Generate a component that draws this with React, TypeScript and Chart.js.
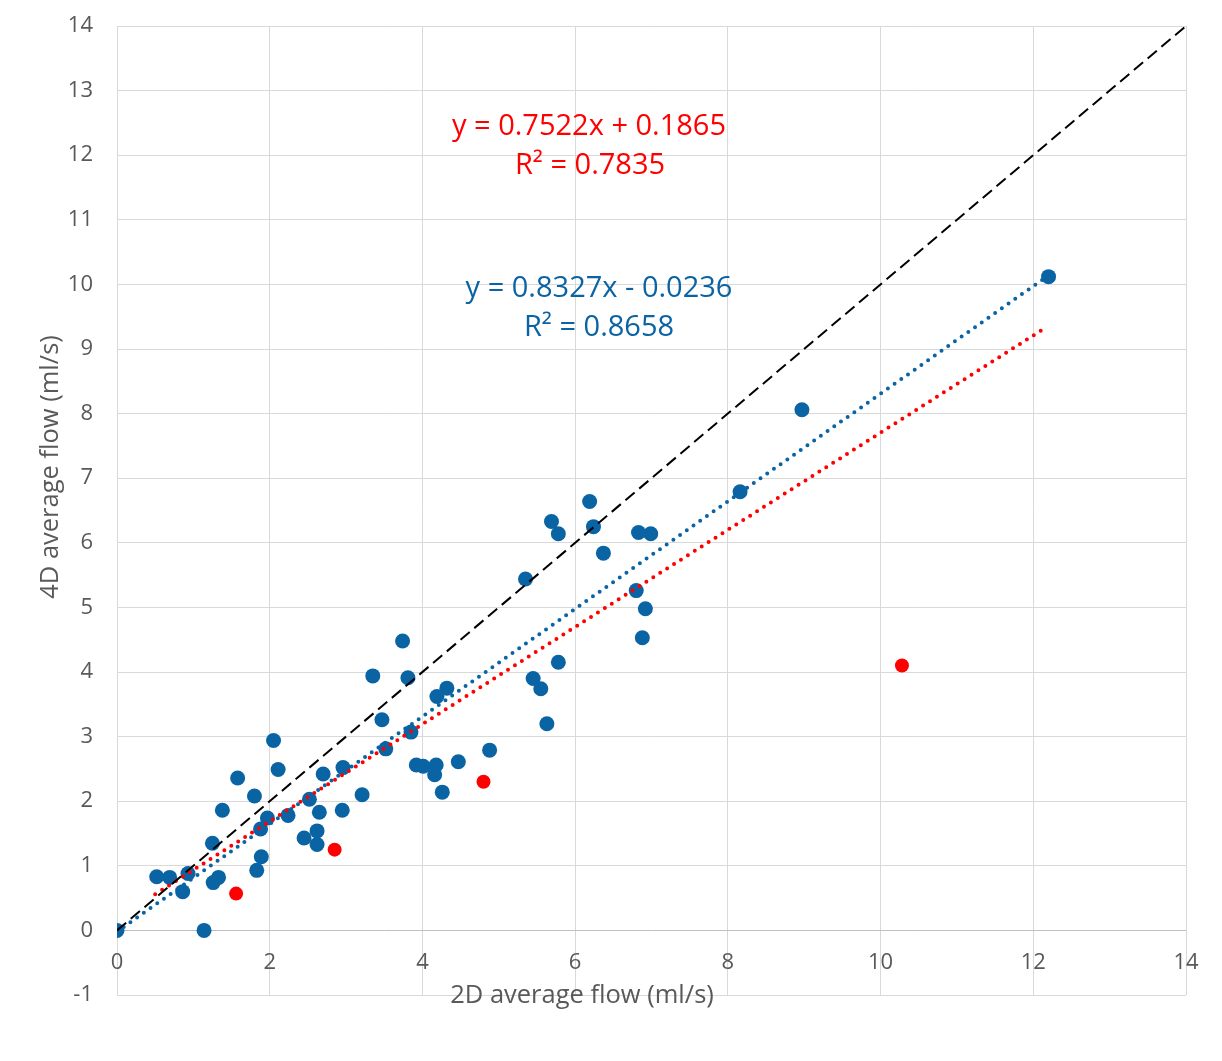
import { useEffect, useRef } from "react";
import { Chart, registerables } from "chart.js";

Chart.register(...registerables);

// blue series: 2D vs 4D average flow
const blueX = [
  0, 1.14, 0.52, 0.69, 0.86, 0.93, 1.26, 1.33, 1.25, 1.38, 1.58, 1.8, 1.83, 1.89, 1.88, 1.97,
  2.05, 2.11, 2.24, 2.45, 2.52, 2.62, 2.62, 2.65, 2.7, 2.95, 2.96, 3.21, 3.35, 3.47, 3.52, 3.74,
  3.81, 3.85, 3.92, 4.01, 4.16, 4.18, 4.19, 4.26, 4.32, 4.47, 4.88, 5.35, 5.45, 5.55, 5.63, 5.69,
  5.78, 5.78, 6.19, 6.24, 6.37, 6.8, 6.83, 6.88, 6.92, 6.99, 8.16, 8.97, 12.2,
];
const blueY = [
  0, 0, 0.83, 0.82, 0.6, 0.88, 0.74, 0.82, 1.35, 1.86, 2.36, 2.08, 0.93, 1.14, 1.57, 1.74,
  2.94, 2.49, 1.78, 1.43, 2.03, 1.54, 1.33, 1.83, 2.42, 1.86, 2.52, 2.1, 3.94, 3.26, 2.81, 4.48,
  3.91, 3.07, 2.56, 2.54, 2.41, 2.56, 3.62, 2.14, 3.75, 2.61, 2.79, 5.44, 3.9, 3.74, 3.2, 6.33,
  6.14, 4.15, 6.64, 6.25, 5.84, 5.26, 6.16, 4.53, 4.98, 6.14, 6.79, 8.06, 10.12,
];

// red series (outliers)
const redX = [1.56, 2.85, 4.8, 10.28];
const redY = [0.57, 1.25, 2.3, 4.1];

// trend line end points
const blueTrendX = [0, 12.2];
const blueTrendY = [-0.02, 10.14];
const redTrendX = [0.5, 12.12];
const redTrendY = [0.56, 9.3];
const identityX = [0, 14];
const identityY = [0, 14];

const redEquation = ["y = 0.7522x + 0.1865", "R² = 0.7835"];
const blueEquation = ["y = 0.8327x - 0.0236", "R² = 0.8658"];
const xTitle = "2D average flow (ml/s)";
const yTitle = "4D average flow (ml/s)";

const BLUE = "#0A64A4";
const RED = "#FF0000";
const GREY = "#595959";
const GRID = "#D9D9D9";
const FONT = "'Open Sans', sans-serif";

const toPoints = (xs: number[], ys: number[]) => xs.map((x, i) => ({ x, y: ys[i] }));

const textPlugin = {
  id: "texts",
  afterDraw(chart: Chart) {
    const ctx = chart.ctx;
    ctx.save();
    ctx.textAlign = "center";
    ctx.textBaseline = "alphabetic";
    ctx.font = `29px ${FONT}`;
    ctx.fillStyle = RED;
    ctx.fillText(redEquation[0], 589, 135);
    ctx.fillText(redEquation[1], 590, 174);
    ctx.fillStyle = BLUE;
    ctx.fillText(blueEquation[0], 599, 297);
    ctx.fillText(blueEquation[1], 599, 336);
    ctx.font = `25.5px ${FONT}`;
    ctx.fillStyle = GREY;
    ctx.fillText(xTitle, 582, 1003);
    ctx.translate(58, 467);
    ctx.rotate(-Math.PI / 2);
    ctx.fillText(yTitle, 0, 0);
    ctx.restore();
  },
};

export default function App() {
  const canvasRef = useRef<HTMLCanvasElement>(null);
  const chartRef = useRef<Chart | null>(null);

  useEffect(() => {
    document.body.style.margin = "0";
    if (!canvasRef.current) return;
    chartRef.current?.destroy();
    const trend = (xs: number[], ys: number[], color: string) => ({
      data: toPoints(xs, ys),
      showLine: true,
      borderColor: color,
      borderWidth: 4,
      borderDash: [0, 8.2],
      borderCapStyle: "round" as const,
      pointRadius: 0,
      order: 0,
    });
    chartRef.current = new Chart(canvasRef.current, {
      type: "scatter",
      data: {
        datasets: [
          {
            data: toPoints(identityX, identityY),
            showLine: true,
            borderColor: "#000000",
            borderWidth: 2,
            borderDash: [12, 6],
            pointRadius: 0,
            order: 0,
          },
          trend(blueTrendX, blueTrendY, BLUE),
          trend(redTrendX, redTrendY, RED),
          { data: toPoints(redX, redY), backgroundColor: RED, borderWidth: 0, pointRadius: 7, order: 1 },
          { data: toPoints(blueX, blueY), backgroundColor: BLUE, borderWidth: 0, pointRadius: 7.5, order: 2 },
        ],
      },
      options: {
        responsive: false,
        animation: false,
        layout: { padding: { top: 26, right: 36, bottom: 66, left: 0 } },
        plugins: { legend: { display: false }, tooltip: { enabled: false } },
        scales: {
          x: {
            type: "linear",
            min: 0,
            max: 14,
            position: { y: 0 },
            ticks: { stepSize: 2, color: GREY, padding: 19, font: { family: FONT, size: 22 } },
            grid: { color: GRID, drawTicks: false },
            border: { display: false },
          },
          y: {
            type: "linear",
            min: -1,
            max: 14,
            ticks: { stepSize: 1, color: GREY, padding: 24, font: { family: FONT, size: 22 } },
            grid: { color: (c: any) => (c.tick && c.tick.value === 0 ? "#BFBFBF" : GRID), drawTicks: false },
            border: { display: false },
            afterFit: (s: any) => {
              s.width = 117;
              s.paddingTop = 14;
              s.paddingBottom = 14;
            },
          },
        },
      },
      plugins: [textPlugin],
    });
    return () => chartRef.current?.destroy();
  }, []);

  return (
    <div style={{ width: 1222, height: 1061, background: "#fff" }}>
      <canvas ref={canvasRef} width={1222} height={1061} />
    </div>
  );
}
